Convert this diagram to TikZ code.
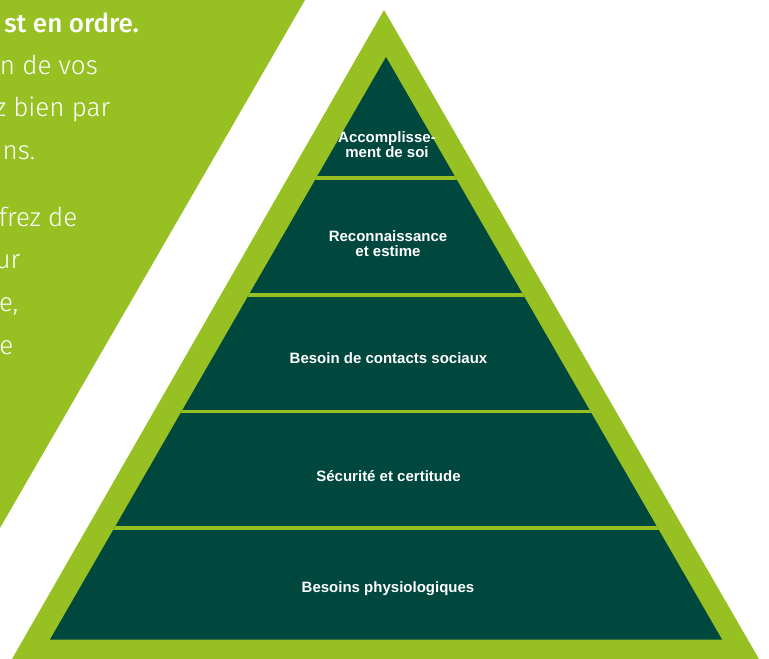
\documentclass[tikz,border=0pt]{standalone}
\usepackage{fontspec}
\setmainfont{Liberation Sans}
\newfontfamily\lightf{Fira Sans Light}
\newfontfamily\medf{Fira Sans Medium}
\definecolor{lime}{RGB}{151,193,35}
\definecolor{forest}{RGB}{0,72,62}
\begin{document}
\begin{tikzpicture}[x=1pt,y=-1pt,
  sidetext/.style={text=white,font=\lightf\fontsize{26}{26}\selectfont,anchor=base east,inner sep=0pt},
  titletext/.style={text=white,font=\medf\fontsize{26}{26}\selectfont,anchor=base east,inner sep=0pt},
  level/.style={text=white,font=\bfseries\fontsize{15}{15}\selectfont,align=center,inner sep=0pt},
  divider/.style={draw=lime,line width=3.5pt}]
\useasboundingbox (0,0) rectangle (769,659);
\fill[white] (0,0) rectangle (769,659);
% left green panel
\fill[lime] (0,0) -- (305,0) -- (0,528) -- cycle;
% outer triangle
\fill[lime] (384,10) -- (759,659) -- (12,659) -- cycle;
% inner triangle
\fill[forest] (386,57) -- (722,639.5) -- (50,639.5) -- cycle;
\begin{scope}
  \clip (386,57) -- (722,639.5) -- (50,639.5) -- cycle;
  \draw[divider] (0,178) -- (769,178);
  \draw[divider] (0,295) -- (769,295);
  \draw[divider] (0,411.3) -- (769,411.3);
  \draw[divider] (0,528) -- (769,528);
\end{scope}
% left text
\node[titletext] (t0) at (139,32.3) {st en ordre.};
\node[sidetext] (t1) at (98,74) {n de vos};
\node[sidetext] (t2) at (110.5,116.7) {z bien par};
\node[sidetext] (t3) at (35.5,159.3) {ns.};
\node[sidetext] (t4) at (77.5,226) {frez de};
\node[sidetext] (t5) at (20.5,268.7) {ur};
\node[sidetext] (t6) at (18.5,311.3) {e,};
\node[sidetext] (t7) at (13.5,354) {e};
% levels
\node[level,anchor=base] (l1) at (387,157) {Accomplisse-\\ment de soi};
\node[level,anchor=base] (l2) at (388,256.7) {Reconnaissance\\et estime};
\node[level,anchor=base] (l3) at (388.5,363) {Besoin de contacts sociaux};
\node[level,anchor=base] (l4) at (388.5,481) {Sécurité et certitude};
\node[level,anchor=base] (l5) at (388,592.7) {Besoins physiologiques};
\end{tikzpicture}
\end{document}
